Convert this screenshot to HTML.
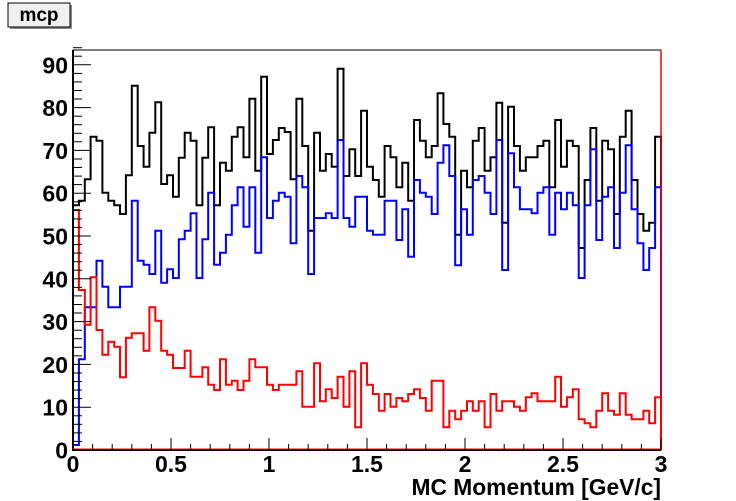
<!DOCTYPE html>
<html><head><meta charset="utf-8"><style>
html,body{margin:0;padding:0;background:#fff;}
svg{display:block;}
text{font-family:"Liberation Sans",Arial,sans-serif;font-weight:bold;fill:#000;}
</style></head><body>
<svg id="s" width="736" height="501" xmlns="http://www.w3.org/2000/svg">
<rect x="0" y="0" width="736" height="501" fill="#fff"/>
<rect x="10" y="5" width="62" height="24" fill="#888"/>
<rect x="8" y="3" width="62" height="24" fill="#f0f0f0" stroke="#000" stroke-width="1"/>
<text x="39" y="21" font-size="19" text-anchor="middle">mcp</text>
<rect x="73" y="50" width="588" height="400" fill="none" stroke="#000" stroke-width="1"/>
<g id="h"></g>
<g id="ax"></g>
<text x="661" y="495" font-size="22.8" text-anchor="end">MC Momentum [GeV/c]</text>
</svg>
<script>
var K=[496,482,418,290,302,458,482,496,522,406,137,318,380,278,187,432,406,470,353,278,302,496,353,262,496,
368,392,290,262,352,176,392,110,342,300,264,276,418,176,318,572,278,392,342,380,86,408,328,408,212,
380,420,470,318,352,442,368,482,240,302,352,318,160,252,290,584,392,442,302,264,392,352,188,548,200,
318,392,352,352,318,302,442,240,380,302,318,624,420,264,482,302,328,522,290,212,420,522,572,548,290];
var B=[1215,958,802,802,662,740,802,802,740,740,482,662,674,702,572,728,688,714,598,572,520,714,598,458,674,
638,584,496,442,560,442,638,352,534,482,458,470,610,408,442,702,534,534,520,534,300,534,560,470,470,
572,584,584,482,482,600,508,650,420,458,470,522,368,316,408,676,508,584,420,408,458,522,300,690,340,
442,508,508,520,458,442,584,458,508,458,496,714,496,328,600,470,442,624,458,316,508,610,690,624,442];
var R=[510,750,854,712,870,944,905,920,1012,893,880,880,932,802,842,932,944,984,984,932,1010,1010,982,1034,1050,
958,1034,1022,1050,1022,958,982,982,1034,1050,1034,1034,1034,994,1100,1100,970,1084,1048,1074,1010,1100,994,1162,970,
1034,1062,1112,1062,1100,1074,1084,1062,1048,1074,1112,1022,1022,1162,1112,1138,1112,1084,1112,1084,1162,1062,1112,1084,1084,
1100,1112,1072,1060,1084,1084,1084,1010,1100,1072,1048,1138,1150,1162,1112,1060,1112,1124,1060,1124,1138,1138,1112,1150,1072];
var Y0=450,X0=73,W=5.88;
function path(a){var d="M"+X0+" "+Y0;for(var i=0;i<a.length;i++){var y=(40+a[i]/3).toFixed(1);var x=(X0+W*i).toFixed(1);d+=" L"+x+" "+y+" L"+(X0+W*(i+1)).toFixed(1)+" "+y;}d+=" L661 "+Y0;return d;}
var h=document.getElementById("h"),ns="http://www.w3.org/2000/svg";
[[K,"#000"],[B,"#0000ff"],[R,"#ff0000"]].forEach(function(p){var e=document.createElementNS(ns,"path");e.setAttribute("d",path(p[0]));e.setAttribute("fill","none");e.setAttribute("stroke",p[1]);e.setAttribute("stroke-width","2");h.appendChild(e);});
var ax=document.getElementById("ax"),s="";
s+='<line x1="73" y1="50" x2="73" y2="451" stroke="#000" stroke-width="2"/>';
s+='<line x1="72" y1="450" x2="661" y2="450" stroke="#000" stroke-width="2"/>';
s+='<line x1="72" y1="449" x2="661" y2="449" stroke="#f00" stroke-width="1"/>';
s+='<line x1="661" y1="50" x2="661" y2="450" stroke="#f00" stroke-width="1.5"/>';
var dy=42.8/10;
for(var v=0;v<=94;v+=2){var y=(Y0-v*dy).toFixed(1);var L=(v%10==0)?18:9;s+='<line x1="73" y1="'+y+'" x2="'+(73+L)+'" y2="'+y+'" stroke="#000" stroke-width="1"/>';if(v%10==0)s+='<text x="68" y="'+(Y0-v*dy+8.5).toFixed(1)+'" font-size="23" text-anchor="end">'+v+'</text>';}
for(var j=0;j<=30;j++){var x=(X0+j*19.6).toFixed(1);var L=(j%5==0)?12:6;s+='<line x1="'+x+'" y1="450" x2="'+x+'" y2="'+(450-L)+'" stroke="#000" stroke-width="1"/>';if(j%5==0){var lab=(j/10).toString();s+='<text x="'+x+'" y="472" font-size="23" text-anchor="middle">'+lab+'</text>';}}
ax.innerHTML=s;
</script>
</body></html>
